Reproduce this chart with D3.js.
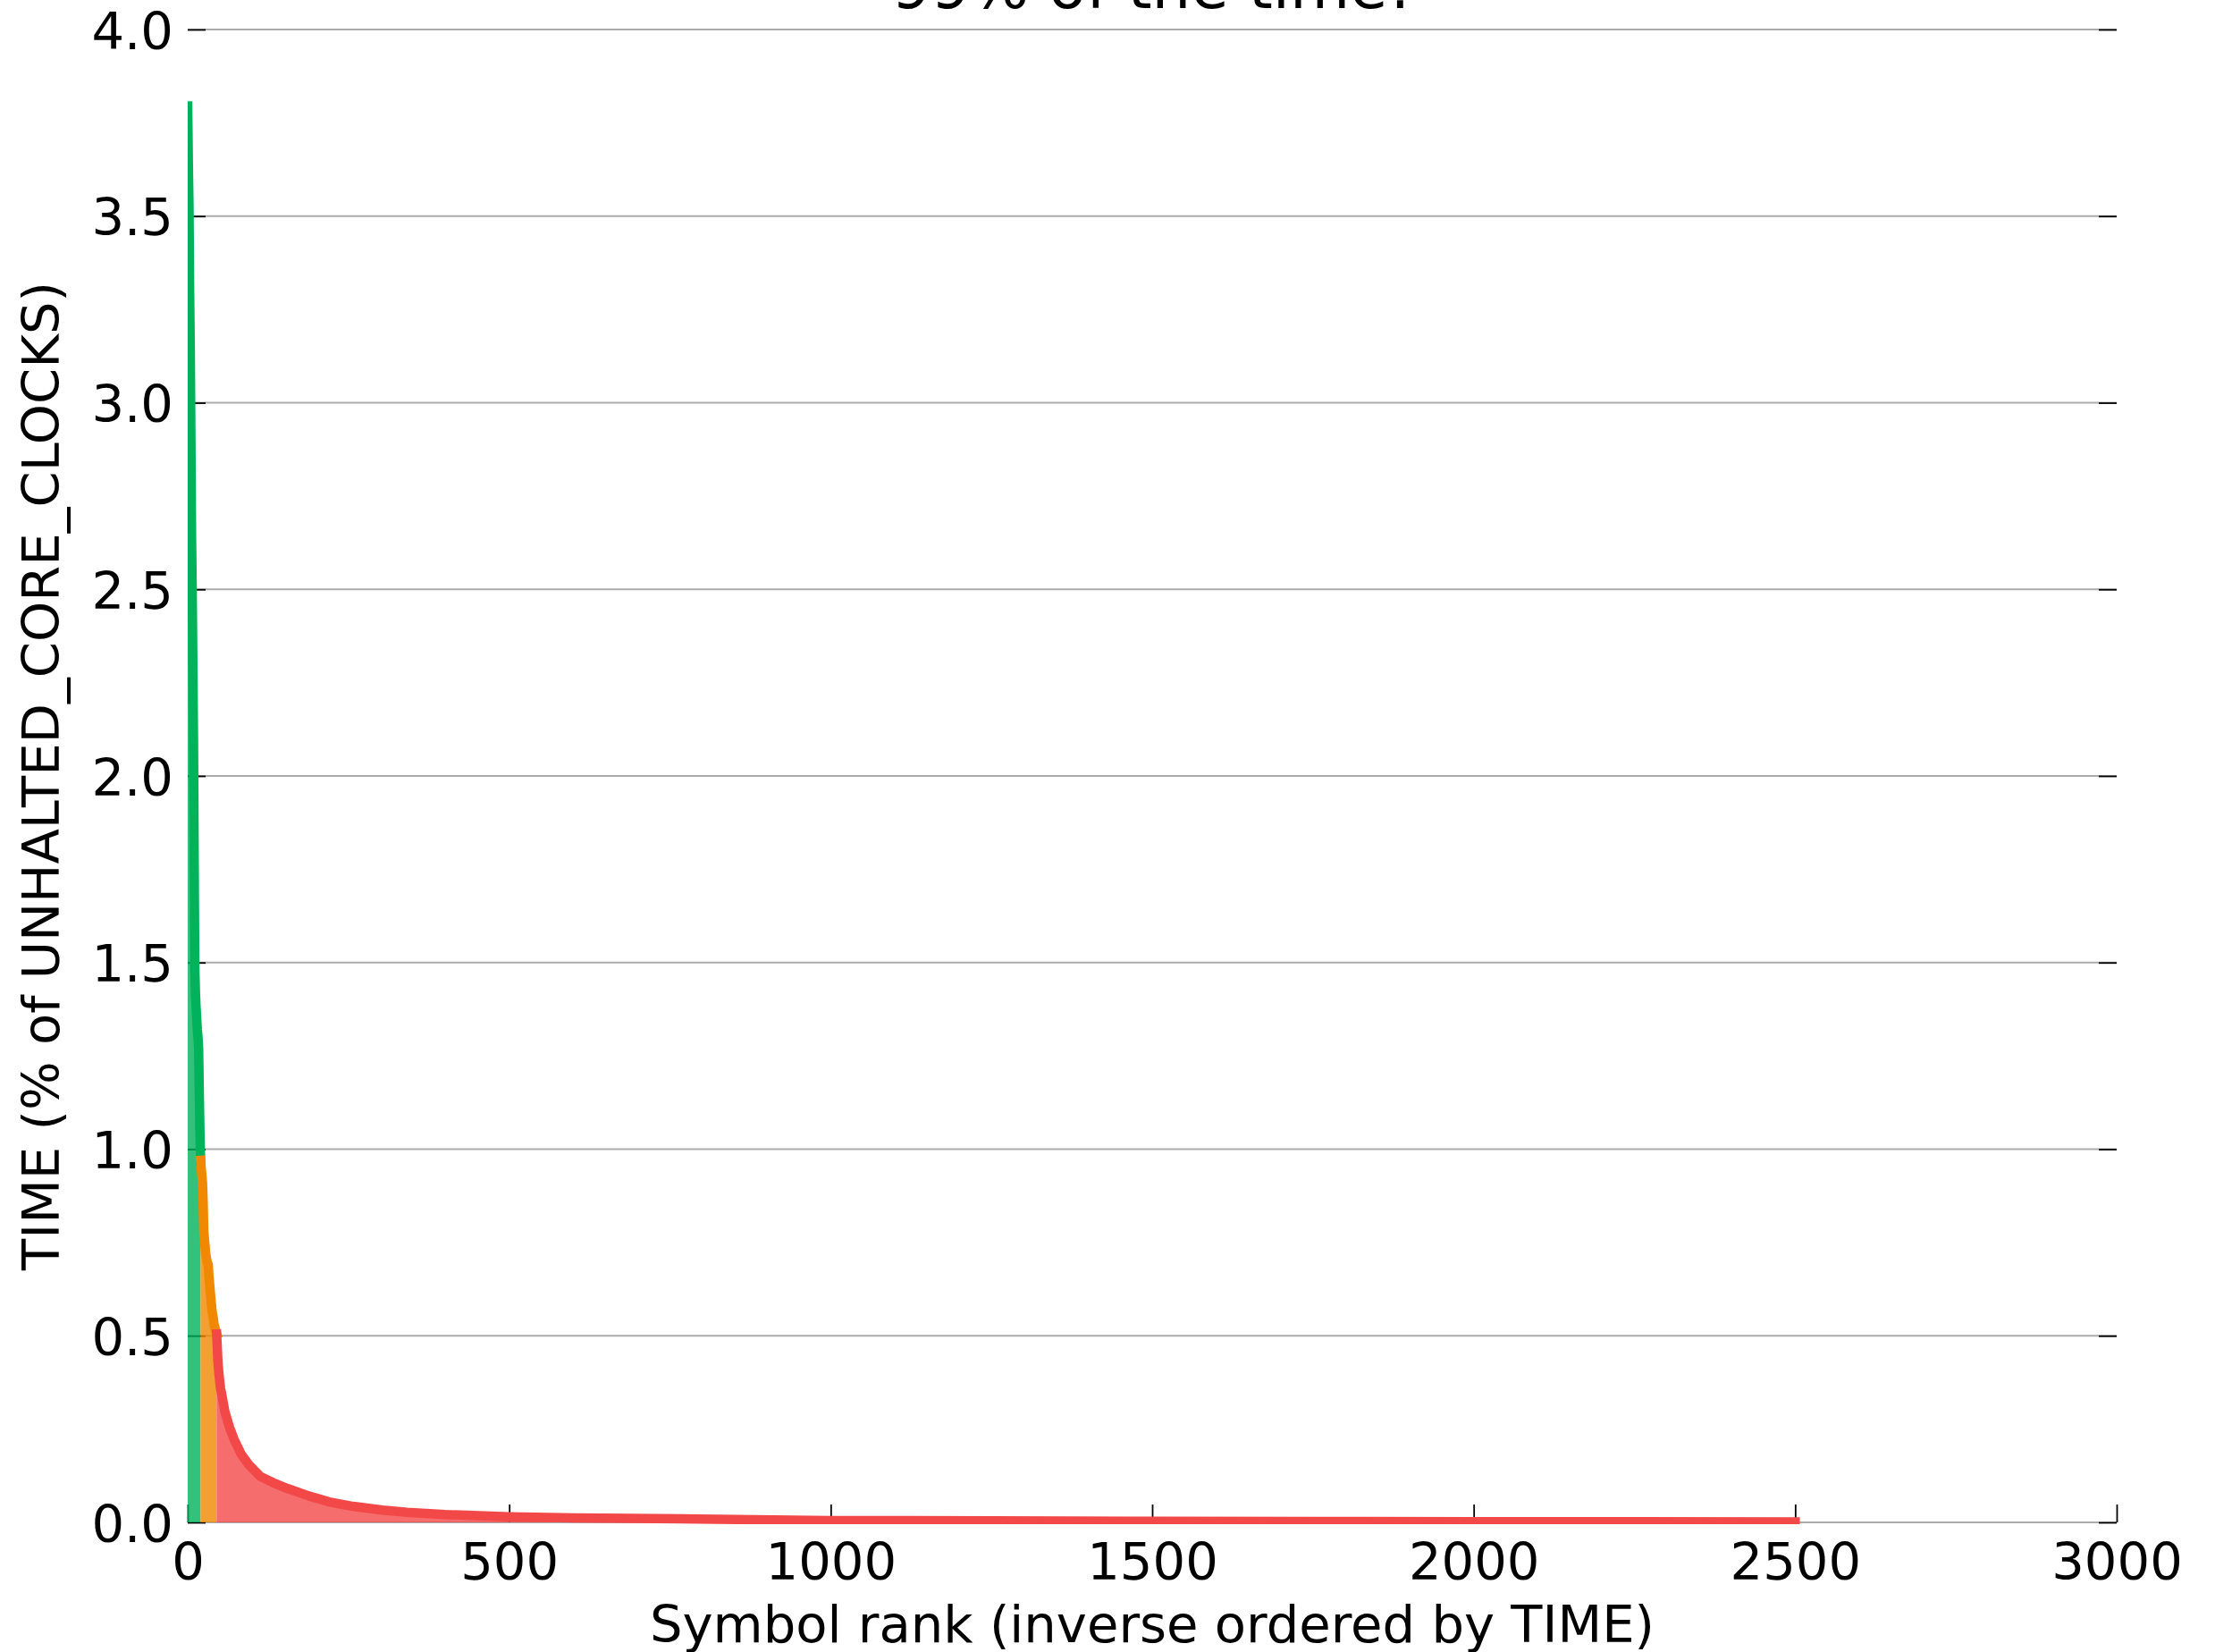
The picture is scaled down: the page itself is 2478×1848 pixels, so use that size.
<!DOCTYPE html>
<html>
<head>
<meta charset="utf-8">
<script src="https://cdn.jsdelivr.net/npm/d3@7"></script>
<style>
  html, body { margin: 0; padding: 0; background: #ffffff; }
  svg { display: block; }
  text { font-family: "DejaVu Sans", sans-serif; fill: #000; }
</style>
</head>
<body>
<svg id="chart" width="2478" height="1848"></svg>
<script>
// Per-symbol share of unhalted core clocks, sorted by rank (descending TIME).
// Green: the few hottest symbols; orange: the next tier; red: the long tail.
const greenRank = [0, 1, 2, 3, 4, 5, 6, 7, 8, 9, 10, 11, 12, 13, 14, 15, 16, 17, 18, 19, 20];
const greenTime = [3.795, 3.64, 3.53, 3.30, 3.14, 2.90, 2.64, 2.50, 2.30, 2.10, 1.80, 1.49, 1.42, 1.38, 1.35, 1.32, 1.30, 1.27, 1.15, 1.05, 0.97];

const orangeRank = [20, 21, 22, 23, 24, 25, 26, 27, 28, 29, 30, 31, 32, 33, 34, 35, 36, 37, 38, 39, 40, 41, 42, 43, 44, 45];
const orangeTime = [0.97, 0.95, 0.93, 0.91, 0.86, 0.78, 0.76, 0.74, 0.72, 0.71, 0.70, 0.695, 0.69, 0.66, 0.64, 0.62, 0.60, 0.58, 0.565, 0.555, 0.545, 0.53, 0.525, 0.515, 0.51, 0.505];

const redRank = [45, 47, 49, 51, 53, 58, 65, 72, 83, 95, 113, 132, 155, 188, 220, 257, 303, 341, 400, 500, 600, 793, 1000, 1250, 1500, 1750, 2000, 2250, 2500];
const redTime = [0.505, 0.43, 0.39, 0.36, 0.342, 0.295, 0.255, 0.223, 0.183, 0.155, 0.123, 0.107, 0.091, 0.071, 0.055, 0.043, 0.033, 0.027, 0.021, 0.015, 0.012, 0.009, 0.005, 0.004, 0.003, 0.0025, 0.002, 0.0015, 0.001];

const xTicks = [0, 500, 1000, 1500, 2000, 2500, 3000];
const yTicks = [0.0, 0.5, 1.0, 1.5, 2.0, 2.5, 3.0, 3.5, 4.0];

const titleText = "99% of the time!";
const xLabel = "Symbol rank (inverse ordered by TIME)";
const yLabel = "TIME (% of UNHALTED_CORE_CLOCKS)";

// Tier styling
const tiers = [
  { rank: greenRank, time: greenTime, line: "#00b35a" },
  { rank: orangeRank, time: orangeTime, line: "#f08800" },
  { rank: redRank, time: redTime, line: "#f24848" }
];

const plotLeft = 210, plotRight = 2368, plotTop = 33, plotBottom = 1703;
const fontSize = 57.6;

const svg = d3.select("#chart");
svg.append("rect").attr("width", 2478).attr("height", 1848).attr("fill", "#fff");

const x = d3.scaleLinear().domain([0, 3000]).range([plotLeft, plotRight]);
const y = d3.scaleLinear().domain([0, 4]).range([plotBottom, plotTop]);

// Horizontal gridlines
svg.append("g").selectAll("line").data(yTicks).join("line")
  .attr("x1", plotLeft).attr("x2", plotRight)
  .attr("y1", d => y(d)).attr("y2", d => y(d))
  .attr("stroke", "#ababab").attr("stroke-width", 1.8);

// Axes (inward ticks, no spines)
const fmtY = d3.format(".1f");
const yLeft = svg.append("g").attr("transform", `translate(${plotLeft},0)`)
  .call(d3.axisLeft(y).tickValues(yTicks).tickFormat(fmtY).tickSize(-20).tickPadding(16));
const yRight = svg.append("g").attr("transform", `translate(${plotRight},0)`)
  .call(d3.axisRight(y).tickValues(yTicks).tickFormat("").tickSize(-20));
const xBottom = svg.append("g").attr("transform", `translate(0,${plotBottom})`)
  .call(d3.axisBottom(x).tickValues(xTicks).tickFormat(d3.format("d")).tickSize(-20).tickPadding(23));

[yLeft, yRight, xBottom].forEach(g => {
  g.select(".domain").remove();
  g.selectAll(".tick line").attr("stroke", "#000").attr("stroke-width", 1.8);
  g.selectAll(".tick text").attr("font-size", fontSize).attr("font-family", "DejaVu Sans").attr("fill", "#000");
});
yLeft.selectAll(".tick text").attr("dy", "0.365em");

// Data layers, clipped to the plotting area
svg.append("clipPath").attr("id", "plotClip")
  .append("rect").attr("x", plotLeft).attr("y", plotTop)
  .attr("width", plotRight - plotLeft).attr("height", plotBottom - plotTop + 2);
const plot = svg.append("g").attr("clip-path", "url(#plotClip)");

const area = d3.area().x(d => x(d[0])).y0(y(0)).y1(d => y(d[1]));
const line = d3.line().x(d => x(d[0])).y(d => y(d[1]));

tiers.forEach(t => {
  const pts = d3.zip(t.rank, t.time);
  plot.append("path").datum(pts).attr("d", area)
    .attr("fill", t.line).attr("fill-opacity", 0.8).attr("stroke", "none");
});
tiers.forEach(t => {
  const pts = d3.zip(t.rank, t.time);
  plot.append("path").datum(pts).attr("d", line)
    .attr("fill", "none").attr("stroke", t.line).attr("stroke-width", 10.5)
    .attr("stroke-linejoin", "round").attr("stroke-linecap", "square");
});

// Title and axis labels
svg.append("text").attr("x", (plotLeft + plotRight) / 2).attr("y", 9)
  .attr("text-anchor", "middle").attr("font-size", 69).text(titleText);
svg.append("text").attr("x", (plotLeft + plotRight) / 2).attr("y", 1837)
  .attr("text-anchor", "middle").attr("font-size", fontSize).text(xLabel);
svg.append("text").attr("transform", `translate(66,${(plotTop + plotBottom) / 2}) rotate(-90)`)
  .attr("text-anchor", "middle").attr("font-size", fontSize).text(yLabel);
</script>
</body>
</html>
